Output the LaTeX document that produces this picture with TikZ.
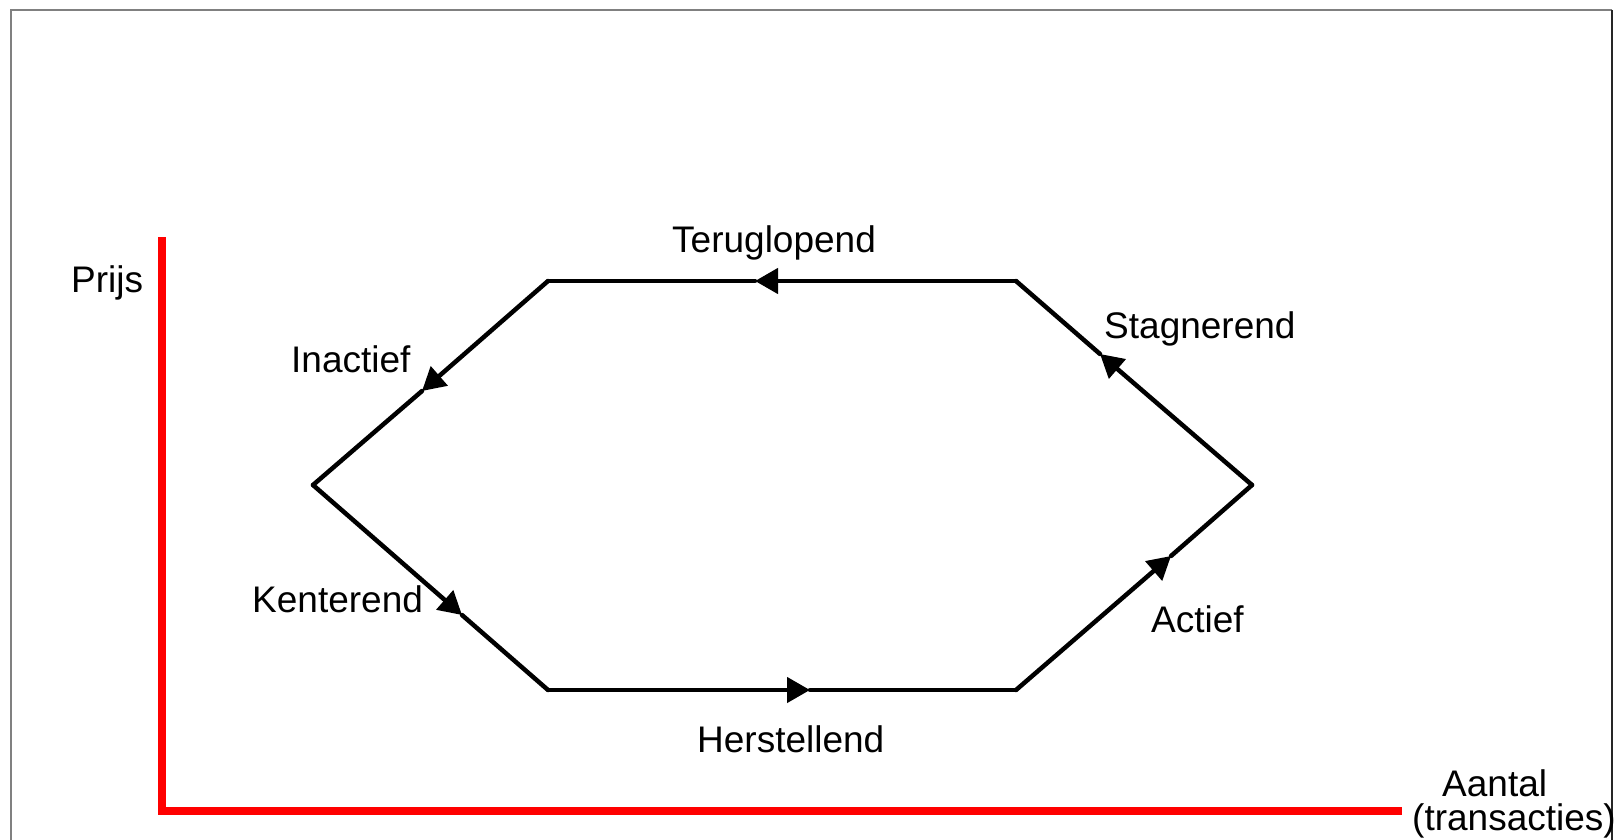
\documentclass[tikz,border=0pt]{standalone}
\usepackage{fontspec}
\setmainfont{Liberation Sans}
\usetikzlibrary{arrows.meta}
\tikzset{
  frame/.style={line width=2pt},
  axisline/.style={line width=8pt,red},
  cycleline/.style={line width=4.5pt,line cap=round},
  tipped/.style={cycleline,-{Triangle[length=23pt,width=25pt]}},
  phase/.style={anchor=base west,inner sep=0pt,font=\fontsize{37}{42}\selectfont}
}

\begin{document}
\begin{tikzpicture}[x=1pt,y=-1pt]
    \useasboundingbox (0,0) rectangle (1614,840);
    % outer frame
    \draw[frame,gray] (11,850)--(11,10)--(1612,10);
    \draw[frame,black!85] (1612,10)--(1612,850);
    % axes
    \coordinate (top) at (162,237);
    \coordinate (origin) at (162,811);
    \coordinate (right) at (1402,811);
    \draw[axisline] (top)--(origin)--(right);
    \node[phase] (prijs) at (71,292) {Prijs};
    \node[phase] (aantal) at (1442,796) {Aantal};
    \node[phase] (trans) at (1412,830) {(transacties)};
    % corners of the cycle
    \coordinate (tl) at (548,281);
    \coordinate (tr) at (1016,281);
    \coordinate (r) at (1252,485);
    \coordinate (br) at (1016,690);
    \coordinate (bl) at (548,690);
    \coordinate (l) at (313,485);
    % arrow points on each side
    \coordinate (aT) at (755,281);
    \coordinate (aTL) at (422,391);
    \coordinate (aBL) at (462,615);
    \coordinate (aB) at (810,690);
    \coordinate (aBR) at (1171,556);
    \coordinate (aTR) at (1100,354);
    \draw[tipped] (tr)--(aT); \draw[cycleline] (aT)--(tl);
    \draw[tipped] (tl)--(aTL); \draw[cycleline] (aTL)--(l);
    \draw[tipped] (l)--(aBL); \draw[cycleline] (aBL)--(bl);
    \draw[tipped] (bl)--(aB); \draw[cycleline] (aB)--(br);
    \draw[tipped] (br)--(aBR); \draw[cycleline] (aBR)--(r);
    \draw[tipped] (r)--(aTR); \draw[cycleline] (aTR)--(tr);
    % phase labels
    \node[phase] (terug) at (672,252) {Teruglopend};
    \node[phase] (stag) at (1104,338) {Stagnerend};
    \node[phase] (inact) at (291,372) {Inactief};
    \node[phase] (kent) at (252,612) {Kenterend};
    \node[phase] (herst) at (697,752) {Herstellend};
    \node[phase] (act) at (1151,632) {Actief};
\end{tikzpicture}
\end{document}
